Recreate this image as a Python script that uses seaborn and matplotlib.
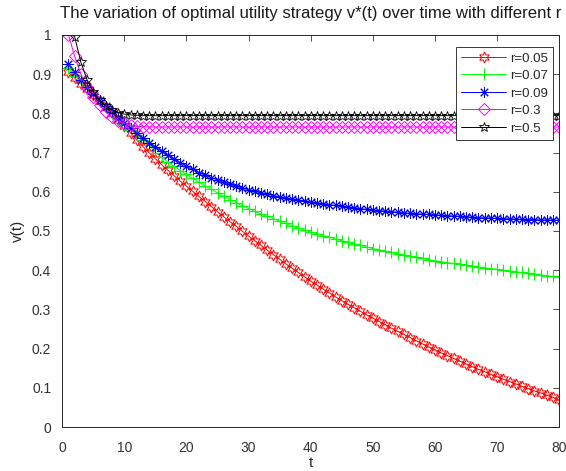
import numpy as np
import pandas as pd
import matplotlib
matplotlib.use("Agg")
import matplotlib.pyplot as plt
import seaborn as sns

t = list(range(1, 81))

r_labels = ["r=0.05", "r=0.07", "r=0.09", "r=0.3", "r=0.5"]

v_r005 = [0.905, 0.890, 0.875, 0.861, 0.847, 0.832, 0.816, 0.800, 0.784, 0.768,
          0.750, 0.732, 0.715, 0.699, 0.684, 0.669, 0.655, 0.641, 0.627, 0.614,
          0.601, 0.588, 0.575, 0.562, 0.549, 0.536, 0.524, 0.512, 0.499, 0.487,
          0.475, 0.463, 0.451, 0.439, 0.428, 0.416, 0.405, 0.394, 0.383, 0.372,
          0.362, 0.352, 0.342, 0.332, 0.322, 0.313, 0.304, 0.295, 0.286, 0.278,
          0.269, 0.261, 0.252, 0.244, 0.236, 0.228, 0.220, 0.212, 0.204, 0.197,
          0.189, 0.182, 0.175, 0.168, 0.161, 0.154, 0.147, 0.141, 0.134, 0.128,
          0.122, 0.116, 0.110, 0.104, 0.098, 0.092, 0.087, 0.081, 0.076, 0.068]

v_r007 = [0.915, 0.896, 0.878, 0.862, 0.848, 0.832, 0.816, 0.801, 0.786, 0.772,
          0.758, 0.744, 0.731, 0.718, 0.700, 0.688, 0.676, 0.665, 0.654, 0.644,
          0.634, 0.624, 0.615, 0.606, 0.597, 0.588, 0.580, 0.572, 0.564, 0.557,
          0.550, 0.543, 0.537, 0.531, 0.525, 0.519, 0.513, 0.508, 0.503, 0.498,
          0.493, 0.488, 0.484, 0.479, 0.475, 0.471, 0.467, 0.463, 0.459, 0.455,
          0.452, 0.448, 0.445, 0.442, 0.439, 0.436, 0.433, 0.430, 0.427, 0.424,
          0.422, 0.419, 0.417, 0.415, 0.413, 0.410, 0.408, 0.406, 0.404, 0.402,
          0.400, 0.398, 0.396, 0.394, 0.392, 0.390, 0.388, 0.386, 0.384, 0.382]

v_r009 = [0.925, 0.905, 0.885, 0.866, 0.850, 0.834, 0.818, 0.803, 0.789, 0.776,
          0.762, 0.749, 0.737, 0.725, 0.714, 0.703, 0.693, 0.683, 0.674, 0.665,
          0.657, 0.649, 0.642, 0.636, 0.630, 0.624, 0.619, 0.614, 0.609, 0.605,
          0.601, 0.597, 0.593, 0.590, 0.587, 0.584, 0.581, 0.578, 0.576, 0.573,
          0.571, 0.569, 0.567, 0.565, 0.563, 0.561, 0.559, 0.557, 0.555, 0.553,
          0.552, 0.550, 0.549, 0.548, 0.546, 0.545, 0.544, 0.543, 0.542, 0.541,
          0.540, 0.539, 0.538, 0.537, 0.536, 0.535, 0.534, 0.533, 0.533, 0.532,
          0.531, 0.531, 0.530, 0.530, 0.529, 0.529, 0.528, 0.528, 0.528, 0.527]

v_r03 = [1.000, 0.945, 0.900, 0.866, 0.842, 0.820, 0.803, 0.790, 0.780, 0.774,
         0.769, 0.767, 0.766, 0.765, 0.765, 0.765, 0.765, 0.765, 0.765, 0.765,
         0.765, 0.765, 0.765, 0.765, 0.765, 0.765, 0.765, 0.765, 0.765, 0.765,
         0.765, 0.765, 0.765, 0.765, 0.765, 0.765, 0.765, 0.765, 0.765, 0.765,
         0.765, 0.765, 0.765, 0.765, 0.765, 0.765, 0.765, 0.765, 0.765, 0.765,
         0.765, 0.765, 0.765, 0.765, 0.765, 0.765, 0.765, 0.765, 0.765, 0.765,
         0.765, 0.765, 0.765, 0.765, 0.765, 0.765, 0.765, 0.765, 0.765, 0.765,
         0.765, 0.765, 0.765, 0.765, 0.765, 0.765, 0.765, 0.765, 0.765, 0.765]

v_r05 = [1.070, 0.995, 0.930, 0.885, 0.855, 0.834, 0.819, 0.809, 0.802, 0.798,
         0.796, 0.795, 0.794, 0.794, 0.794, 0.794, 0.794, 0.794, 0.794, 0.794,
         0.794, 0.794, 0.794, 0.794, 0.794, 0.794, 0.794, 0.794, 0.794, 0.794,
         0.794, 0.794, 0.794, 0.794, 0.794, 0.794, 0.794, 0.794, 0.794, 0.794,
         0.794, 0.794, 0.794, 0.794, 0.794, 0.794, 0.794, 0.794, 0.794, 0.794,
         0.794, 0.794, 0.794, 0.794, 0.794, 0.794, 0.794, 0.794, 0.794, 0.794,
         0.794, 0.794, 0.794, 0.794, 0.794, 0.794, 0.794, 0.794, 0.794, 0.794,
         0.794, 0.794, 0.794, 0.794, 0.794, 0.794, 0.794, 0.794, 0.794, 0.794]

x_ticks = [0, 10, 20, 30, 40, 50, 60, 70, 80]
y_ticks = [0, 0.1, 0.2, 0.3, 0.4, 0.5, 0.6, 0.7, 0.8, 0.9, 1]
y_tick_labels = ["0", "0.1", "0.2", "0.3", "0.4", "0.5", "0.6", "0.7", "0.8", "0.9", "1"]

sns.set_style("white")
plt.rcParams["font.family"] = ["Liberation Sans", "DejaVu Sans"]

fig = plt.figure(figsize=(5.66, 4.71), dpi=100)
ax = fig.add_axes([0.110, 0.0934, 0.878, 0.8326])

series = [v_r005, v_r007, v_r009, v_r03, v_r05]
colors = ["#ff0000", "#00ff00", "#0000ff", "#ff00ff", "#000000"]
markers = [(6, 1, 0), "+", (8, 2, 0), "D", "*"]
msizes = [8, 9, 7.5, 6.5, 7]
mews = [0.7, 0.8, 0.7, 0.7, 0.6]

for vals, lab, c, m, ms, mew in zip(series, r_labels, colors, markers, msizes, mews):
    df = pd.DataFrame({"t": t, "v": vals})
    sns.lineplot(data=df, x="t", y="v", ax=ax, color=c, marker=m, markersize=ms,
                 markeredgewidth=mew, markerfacecolor="none", markeredgecolor=c,
                 linewidth=0.7, label=lab)

ax.set_xlim(0, 80)
ax.set_ylim(0, 1)
ax.set_xticks(x_ticks)
ax.set_yticks(y_ticks)
ax.set_yticklabels(y_tick_labels)
ax.tick_params(direction="in", top=True, right=True, length=4, width=0.6,
               labelsize=10, colors="0.2")
ax.tick_params(axis="x", pad=10)
ax.tick_params(axis="y", pad=8)
for sp in ax.spines.values():
    sp.set_color("0.15")
    sp.set_linewidth(0.7)

ax.set_xlabel("t", fontsize=11, color="0.15", labelpad=1)
ax.set_ylabel("v(t)", fontsize=11, color="0.15", labelpad=5)
ax.set_title("The variation of optimal utility strategy v*(t) over time with different r",
             fontsize=12.1, color="0.1", pad=12)

leg = ax.legend(loc="upper right", bbox_to_anchor=(0.988, 0.969), borderaxespad=0,
                fontsize=9.5, frameon=True, fancybox=False, framealpha=1,
                edgecolor="0.1", handlelength=3.4, labelspacing=0.4,
                handletextpad=0.3, borderpad=0.4)
leg.get_frame().set_linewidth(0.6)

fig.savefig("out.png", dpi=100)
